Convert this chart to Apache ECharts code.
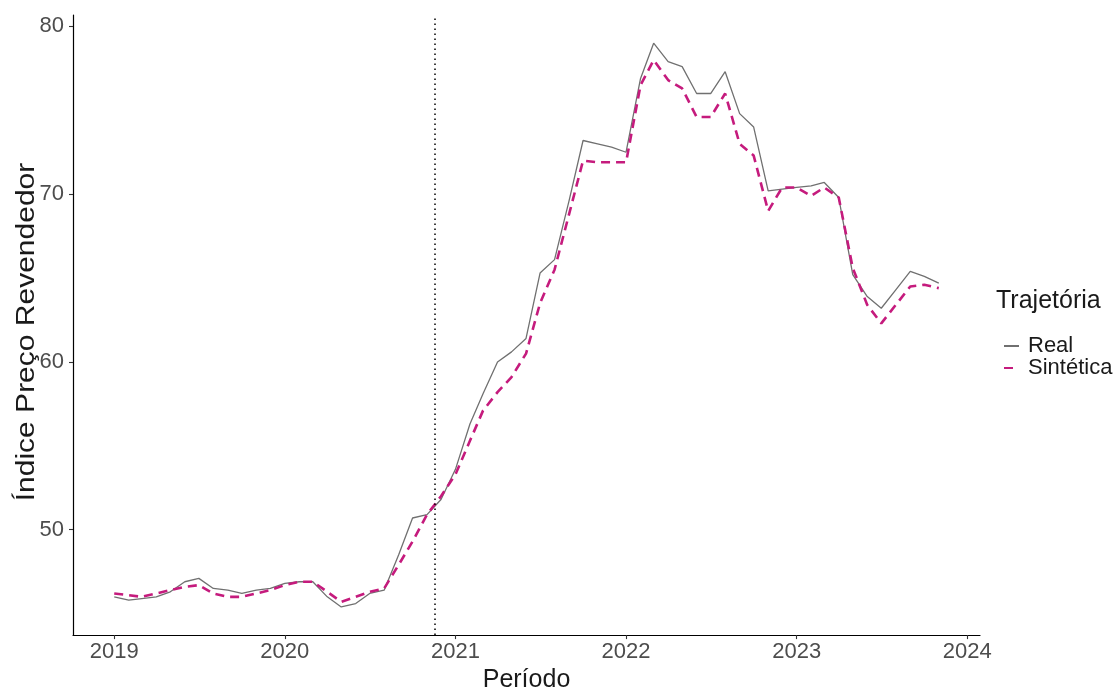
<!DOCTYPE html>
<html>
<head>
<meta charset="utf-8">
<title>Índice Preço Revendedor</title>
<script src="https://cdn.jsdelivr.net/npm/echarts@6/dist/echarts.min.js"></script>
<style>
  html, body { margin: 0; padding: 0; background: #ffffff; }
  #chart { width: 1119px; height: 698px; }
</style>
</head>
<body>
<div id="chart"></div>
<script>
// Monthly series, starting January 2019
const startYear = 2019;
const startMonth = 1;

const realValues = [
  46.0, 45.8, 45.9, 46.0, 46.3, 46.9, 47.1, 46.5, 46.4, 46.2, 46.4, 46.5,
  46.8, 46.9, 46.9, 46.0, 45.4, 45.6, 46.2, 46.4, 48.5, 50.7, 50.9, 51.8,
  53.6, 56.3, 58.1, 60.0, 60.6, 61.4, 65.3, 66.1, 69.6, 73.2, 73.0, 72.8,
  72.5, 76.9, 79.0, 77.9, 77.6, 76.0, 76.0, 77.3, 74.8, 74.0, 70.2, 70.3,
  70.4, 70.5, 70.7, 69.8, 65.2, 63.9, 63.2, 64.3, 65.4, 65.1, 64.7
];

const syntheticValues = [
  46.2, 46.1, 46.0, 46.2, 46.4, 46.6, 46.7, 46.2, 46.0, 46.0, 46.2, 46.4,
  46.7, 46.9, 46.9, 46.3, 45.7, 46.0, 46.3, 46.5, 47.9, 49.3, 50.9, 52.0,
  53.3, 55.3, 57.1, 58.2, 59.1, 60.5, 63.5, 65.5, 68.8, 72.0, 71.9, 71.9,
  71.9, 76.5, 78.0, 76.8, 76.3, 74.6, 74.6, 76.0, 73.0, 72.3, 69.0, 70.4,
  70.4, 69.9, 70.4, 69.8, 65.6, 63.4, 62.3, 63.4, 64.5, 64.6, 64.4
];

// Start of the treatment period (vertical reference line)
const interventionDate = { year: 2020, month: 11, day: 17 };

const xTickYears = [2019, 2020, 2021, 2022, 2023, 2024];
const yTickValues = [50, 60, 70, 80];

const seriesNames = ['Real', 'Sintética'];
const legendTitle = 'Trajetória';
const xTitle = 'Período';
const yTitle = 'Índice Preço Revendedor';

// Convert a calendar date to a fractional year
function toYear(y, m, d) {
  const start = Date.UTC(y, 0, 1);
  const end = Date.UTC(y + 1, 0, 1);
  return y + (Date.UTC(y, m - 1, d) - start) / (end - start);
}

function monthlyPoints(values) {
  return values.map((v, i) => {
    const total = (startMonth - 1) + i;
    const y = startYear + Math.floor(total / 12);
    const m = (total % 12) + 1;
    return [toYear(y, m, 1), v];
  });
}

const realData = monthlyPoints(realValues);
const synthData = monthlyPoints(syntheticValues);

// Axis ranges padded by 5% of the data span on each side
const xFirst = realData[0][0];
const xLast = realData[realData.length - 1][0];
const xPad = (xLast - xFirst) * 0.05;
const allY = realValues.concat(syntheticValues);
const yMinData = Math.min.apply(null, allY);
const yMaxData = Math.max.apply(null, allY);
const yPad = (yMaxData - yMinData) * 0.05;

const fontFamily = '"Liberation Sans", Arial, Helvetica, sans-serif';
const realColor = '#707070';
const synthColor = '#c51b7d';

const grid = { left: 73, right: 139, top: 15, bottom: 49 };
const chartHeight = 698;

const chart = echarts.init(document.getElementById('chart'), null, { renderer: 'canvas' });

chart.setOption({
  animation: false,
  backgroundColor: '#ffffff',
  grid: Object.assign({ containLabel: false }, grid),
  xAxis: {
    type: 'value',
    min: xFirst - xPad,
    max: xLast + xPad,
    name: xTitle,
    nameLocation: 'middle',
    nameGap: 26,
    nameTextStyle: { fontFamily: fontFamily, fontSize: 25, color: '#1a1a1a' },
    axisLine: { show: true, lineStyle: { color: '#000000', width: 1.2 } },
    axisTick: { show: true, length: 4, lineStyle: { color: '#333333', width: 1.1 }, customValues: xTickYears },
    axisLabel: {
      customValues: xTickYears,
      margin: 6,
      fontFamily: fontFamily,
      fontSize: 22,
      color: '#4d4d4d',
      formatter: (v) => String(Math.round(v))
    },
    splitLine: { show: false }
  },
  yAxis: {
    type: 'value',
    min: yMinData - yPad,
    max: yMaxData + yPad,
    axisLine: { show: true, lineStyle: { color: '#000000', width: 1.2 } },
    axisTick: { show: true, length: 4, lineStyle: { color: '#333333', width: 1.1 }, customValues: yTickValues },
    axisLabel: {
      customValues: yTickValues,
      margin: 9,
      fontFamily: fontFamily,
      fontSize: 22,
      color: '#4d4d4d'
    },
    splitLine: { show: false }
  },
  legend: {
    orient: 'vertical',
    left: 998,
    top: 330,
    itemWidth: 15,
    itemHeight: 12,
    itemGap: 0,
    itemStyle: { opacity: 0 },
    textStyle: { fontFamily: fontFamily, fontSize: 22, lineHeight: 19, color: '#1a1a1a', padding: [0, 0, 0, 4] },
    data: seriesNames
  },
  graphic: [
    {
      // Vertical axis title, elongated along its reading direction
      type: 'text',
      x: 27,
      y: grid.top + (chartHeight - grid.top - grid.bottom) / 2,
      rotation: Math.PI / 2,
      scaleX: 1.2,
      style: {
        text: yTitle,
        font: '25px ' + fontFamily,
        fill: '#1a1a1a',
        align: 'center',
        verticalAlign: 'middle'
      }
    },
    {
      type: 'text',
      left: 996,
      top: 289,
      style: { text: legendTitle, font: '25px ' + fontFamily, fill: '#1a1a1a' }
    }
  ],
  series: [
    {
      name: seriesNames[0],
      type: 'line',
      data: realData,
      showSymbol: false,
      symbol: 'none',
      lineStyle: { color: realColor, width: 1.3 },
      itemStyle: { color: realColor },
      z: 3,
      markLine: {
        silent: true,
        symbol: ['none', 'none'],
        label: { show: false },
        lineStyle: { color: '#000000', type: [1.5, 3.5], width: 1.5 },
        data: [{ xAxis: toYear(interventionDate.year, interventionDate.month, interventionDate.day) }]
      }
    },
    {
      name: seriesNames[1],
      type: 'line',
      data: synthData,
      showSymbol: false,
      symbol: 'none',
      lineStyle: { color: synthColor, width: 2.6, type: [9, 6] },
      itemStyle: { color: synthColor },
      z: 4
    }
  ]
});
</script>
</body>
</html>
